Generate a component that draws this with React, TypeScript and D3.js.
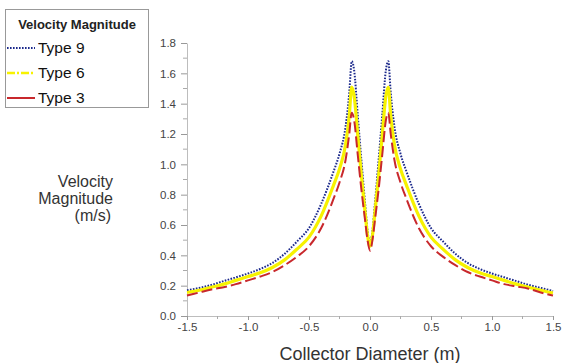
import React, { useRef, useEffect } from 'react';
import * as d3 from 'd3';

const diameter = [-1.5, -1.4, -1.3, -1.2, -1.1, -1.0, -0.9, -0.8, -0.7, -0.6, -0.5, -0.4, -0.3, -0.25, -0.2, -0.17, -0.15, -0.13, -0.1, -0.07, -0.04, -0.02,
  0,
  0.02, 0.04, 0.07, 0.1, 0.13, 0.15, 0.17, 0.2, 0.25, 0.3, 0.4, 0.5, 0.6, 0.7, 0.8, 0.9, 1.0, 1.1, 1.2, 1.3, 1.4, 1.5];

const type9 = [0.17, 0.185, 0.205, 0.23, 0.255, 0.28, 0.31, 0.35, 0.41, 0.49, 0.58, 0.74, 0.95, 1.07, 1.25, 1.47, 1.68, 1.62, 1.32, 1.02, 0.74, 0.56,
  0.48,
  0.56, 0.74, 1.02, 1.32, 1.62, 1.68, 1.47, 1.25, 1.07, 0.95, 0.74, 0.58, 0.49, 0.41, 0.35, 0.31, 0.28, 0.255, 0.23, 0.205, 0.185, 0.165];

const type6 = [0.155, 0.17, 0.19, 0.21, 0.235, 0.26, 0.285, 0.32, 0.37, 0.44, 0.52, 0.66, 0.86, 0.97, 1.13, 1.32, 1.51, 1.45, 1.19, 0.92, 0.68, 0.53,
  0.46,
  0.53, 0.68, 0.92, 1.19, 1.45, 1.51, 1.32, 1.13, 0.97, 0.86, 0.66, 0.52, 0.44, 0.37, 0.32, 0.285, 0.26, 0.235, 0.21, 0.19, 0.17, 0.152];

const type3 = [0.135, 0.155, 0.175, 0.19, 0.21, 0.235, 0.26, 0.29, 0.335, 0.39, 0.46, 0.58, 0.77, 0.88, 1.03, 1.2, 1.34, 1.29, 1.06, 0.83, 0.63, 0.5,
  0.43,
  0.5, 0.63, 0.83, 1.06, 1.29, 1.34, 1.2, 1.03, 0.88, 0.77, 0.58, 0.46, 0.39, 0.335, 0.29, 0.26, 0.235, 0.21, 0.195, 0.18, 0.155, 0.135];

const xTicks = [-1.5, -1.0, -0.5, 0.0, 0.5, 1.0, 1.5];
const yTicks = [0, 0.2, 0.4, 0.6, 0.8, 1.0, 1.2, 1.4, 1.6, 1.8];
const yTitle = ['Velocity', 'Magnitude', '(m/s)'];

const series = [
  { name: 'Type 9', values: type9, color: '#1c2a8c', width: 2, dash: '1.6,1.4', legendDash: '1.6,1.4' },
  { name: 'Type 6', values: type6, color: '#f7f200', width: 3.2, dash: null, legendDash: '8,2,2,2' },
  { name: 'Type 3', values: type3, color: '#c8282c', width: 2, dash: '11,4', legendDash: null },
];

const FONT = 'Liberation Sans, Arial, sans-serif';
const fmt = (d: number) => d.toFixed(1);

export default function App() {
  const ref = useRef<SVGSVGElement>(null);

  useEffect(() => {
    const svg = d3.select(ref.current);
    svg.selectAll('*').remove();

    const x = d3.scaleLinear().domain([-1.5, 1.5]).range([187, 553]);
    const y = d3.scaleLinear().domain([0, 1.8]).range([316, 43]);
    const axisColor = '#bdbdbd';

    // axes
    const gy = svg.append('g').attr('transform', 'translate(187,0)')
      .call(d3.axisLeft(y).tickValues(yTicks).tickFormat(fmt as any).tickSize(6).tickSizeOuter(0));
    gy.select('.domain').attr('stroke', axisColor);
    gy.selectAll('.tick line').attr('stroke', '#999');
    gy.selectAll('.tick text').attr('fill', '#444').style('font-size', '11.5px').style('font-family', FONT).attr('x', -11);
    gy.selectAll('.minor').data(d3.range(0.1, 1.8, 0.2)).enter().append('line')
      .attr('x1', -4).attr('x2', 0).attr('y1', d => y(d)).attr('y2', d => y(d)).attr('stroke', '#aaa');

    const gx = svg.append('g').attr('transform', 'translate(0,316)')
      .call(d3.axisBottom(x).tickValues(xTicks).tickFormat(fmt as any).tickSize(4).tickSizeOuter(0));
    gx.select('.domain').attr('stroke', axisColor);
    gx.selectAll('.tick line').attr('stroke', '#999');
    gx.selectAll('.tick text').attr('fill', '#444').style('font-size', '11.5px').style('font-family', FONT).attr('y', 7);
    gx.selectAll('.minor').data(d3.range(-1.25, 1.5, 0.5)).enter().append('line')
      .attr('x1', d => x(d)).attr('x2', d => x(d)).attr('y1', 0).attr('y2', 3).attr('stroke', '#aaa');

    // lines
    const line = d3.line<number>()
      .x((d, i) => x(diameter[i]))
      .y(d => y(d))
      .curve(d3.curveMonotoneX);

    series.forEach(s => {
      svg.append('path')
        .attr('d', line(s.values))
        .attr('fill', 'none')
        .attr('stroke', s.color)
        .attr('stroke-width', s.width)
        .attr('stroke-dasharray', s.dash)
        .attr('stroke-linejoin', 'round');
    });

    // axis titles
    yTitle.forEach((t, i) => {
      svg.append('text').attr('x', i === 2 ? 111 : 113).attr('y', 187 + i * 17)
        .attr('text-anchor', 'end').attr('fill', '#333')
        .style('font-family', FONT).style('font-size', '16px').text(t);
    });

    svg.append('text').attr('x', 370).attr('y', 360).attr('text-anchor', 'middle').attr('fill', '#333')
      .style('font-family', FONT).style('font-size', '18px').text('Collector Diameter (m)');

    // legend
    const lg = svg.append('g');
    lg.append('rect').attr('x', 5.5).attr('y', 9.5).attr('width', 143).attr('height', 98)
      .attr('fill', '#fff').attr('stroke', '#999');
    lg.append('text').attr('x', 77).attr('y', 29).attr('text-anchor', 'middle').attr('fill', '#222')
      .style('font-family', FONT).style('font-size', '13px').style('font-weight', 'bold').text('Velocity Magnitude');
    series.forEach((s, i) => {
      const ly = 48 + i * 25;
      lg.append('line').attr('x1', 7).attr('x2', 35).attr('y1', ly).attr('y2', ly)
        .attr('stroke', s.color).attr('stroke-width', i === 1 ? 2.5 : 2).attr('stroke-dasharray', s.legendDash);
      lg.append('text').attr('x', 38).attr('y', ly + 5).attr('fill', '#111')
        .style('font-family', FONT).style('font-size', '15.5px').text(s.name);
    });
  }, []);

  return (
    <svg ref={ref} width={572} height={363}
      style={{ position: 'absolute', left: 0, top: 0, background: '#fff' }} />
  );
}
